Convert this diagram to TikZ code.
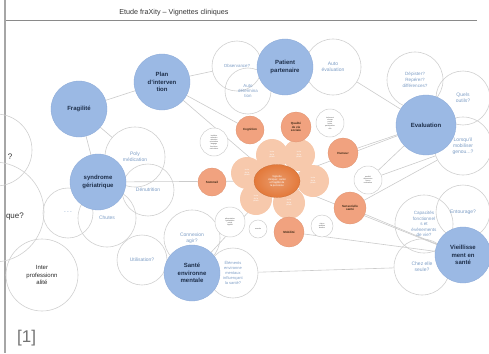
\documentclass[tikz,border=0pt]{standalone}
\usepackage{fontspec}
\setmainfont{Liberation Sans}
\usetikzlibrary{shapes.geometric}
\definecolor{hubblue}{HTML}{9BB9E4}
\definecolor{hubedge}{HTML}{8AA8D6}
\definecolor{hubtext}{HTML}{1E2F4A}
\definecolor{ringgray}{HTML}{CFCFCF}
\definecolor{ringtext}{HTML}{7C9CC4}
\definecolor{linkgray}{HTML}{CBCBCB}
\definecolor{petalfill}{HTML}{F7C9AC}
\definecolor{outerfill}{HTML}{F1A27F}
\definecolor{corefill}{HTML}{E3793A}
\definecolor{rulegray}{HTML}{8A8A8A}
\pgfdeclarelayer{edges}
\pgfsetlayers{edges,main}
\begin{document}
\begin{tikzpicture}[x=1pt,y=-1pt,
  hub/.style={circle,fill=hubblue,draw=hubedge,line width=0.3pt,minimum size=#1,
    inner sep=0pt,align=center,font=\fontsize{6}{7.2}\selectfont\bfseries,text=hubtext},
  hub/.default=56pt,
  ring/.style={circle,draw=ringgray,line width=0.6pt,minimum size=#1,inner sep=0pt,
    align=center,font=\fontsize{5}{6.2}\selectfont,text=ringtext},
  ring/.default=54pt,
  petal/.style={circle,fill=petalfill,minimum size=32pt,inner sep=0pt,align=center,
    font=\fontsize{2}{2.5}\selectfont,text=white},
  outer/.style={circle,fill=outerfill,draw=outerfill!90!black,line width=0.2pt,minimum size=#1,
    inner sep=0pt,align=center,font=\fontsize{3}{3.6}\selectfont\bfseries,text=black!70!brown},
  outer/.default=30pt,
  mini/.style={circle,draw=ringgray,fill=white,line width=0.5pt,minimum size=#1,inner sep=0pt,
    align=center,font=\fontsize{1.8}{2.2}\selectfont,text=black!70},
  mini/.default=28pt,
  link/.style={draw=linkgray,line width=0.6pt},
  plain/.style={inner sep=0pt,align=center}
]
\useasboundingbox (0,0) rectangle (489,353);

% header and left margin rule
\node[plain,font=\fontsize{7.2}{8.5}\selectfont,text=black!80] (title) at (174,13) {Etude fraXity -- Vignettes cliniques};
\coordinate (ruleL) at (5,20);
\coordinate (ruleR) at (477,20);
\draw[rulegray,line width=0.9pt] (ruleL) -- (ruleR);
\coordinate (barT) at (5,0);
\coordinate (barB) at (5,353);
\draw[black!35,line width=1.6pt] (barT) -- (barB);

% outline circles (questions)
\node[ring=72pt] (qa) at (-4,150) {};
\node[plain,font=\fontsize{8}{9}\selectfont,text=black!80] (qatext) at (10,157) {?};
\node[ring=100pt] (qb) at (-6,212) {};
\node[plain,anchor=east,font=\fontsize{8}{9}\selectfont,text=black!80] (qbtext) at (24,217) {que?};
\node[ring=72pt,text=black!85,font=\fontsize{6}{7.4}\selectfont] (inter) at (42,275) {Inter\\professionn\\alité};
\node[ring=60pt] (poly) at (135,157) {Poly\\médication};
\node[ring=52pt] (denut) at (148,190) {Dénutrition};
\node[ring=58pt] (chutes) at (107,218) {Chutes};
\node[ring=50pt] (blank) at (68,213) {- - -};
\node[ring=50pt,font=\fontsize{4.4}{5.4}\selectfont] (obs) at (237,66) {Observance?};
\node[ring=46pt,font=\fontsize{4.4}{5.4}\selectfont] (autodet) at (248,91) {Auto\\détermina\\tion};
\node[ring=56pt] (autoeval) at (333,67) {Auto\\évaluation};
\node[ring=56pt,font=\fontsize{4.6}{5.8}\selectfont] (depist) at (415,80) {Dépister?\\Repérer?\\différences?};
\node[ring=54pt] (outils) at (463,98) {Quels\\outils?};
\node[ring=58pt] (lorsq) at (463,146) {Lorsqu'il\\mobiliser\\genou...?};
\node[ring=58pt,font=\fontsize{4.6}{5.6}\selectfont] (capac) at (424,224) {Capacités\\fonctionnel\\s et\\évènements\\de vie?};
\node[ring=54pt] (entour) at (463,212) {Entourage?};
\node[ring=56pt] (chez) at (422,267) {Chez elle\\seule?};
\node[ring=56pt] (connex) at (192,238) {Connexion\\agir?};
\node[ring=50pt] (util) at (142,260) {Utilisation?};
\node[ring=50pt,font=\fontsize{4}{4.9}\selectfont] (elem) at (233,273) {Éléments\\environne\\mentaux\\influençant\\la santé?};

% hub circles
\node[hub] (plan) at (162,82) {Plan\\d'interven\\tion};
\node[hub] (frag) at (79,109) {Fragilité};
\node[hub] (patient) at (285,67) {Patient\\partenaire};
\node[hub=60pt] (eval) at (426,125) {Evaluation};
\node[hub] (synd) at (98,182) {syndrome\\gériatrique};
\node[hub] (sante) at (192,273) {Santé\\environne\\mentale};
\node[hub] (vieil) at (463,255) {Vieillisse\\ment en\\santé};

% flower: petals around the core
\foreach \px/\py [count=\i] in {272/155, 299/155, 313/181, 289/203, 256/199, 247/173}
  \node[petal] (petal\i) at (\px,\py) {texte\\de la\\pétale};
\node[ellipse,minimum width=46pt,minimum height=33pt,inner sep=0pt,
  inner color=corefill!75!white,outer color=corefill,draw=corefill!85!black,line width=0.2pt,
  align=center,font=\fontsize{2.6}{3.1}\selectfont,text=white] (center) at (277,181)
  {Vignette\\clinique : santé\\et fragilité de\\la personne};

% outer orange circles
\node[outer=28pt] (cogn) at (250,130) {Cognition};
\node[outer=30pt] (qualite) at (296,127) {Qualité\\de vie\\sociale};
\node[outer=30pt] (humeur) at (343,153) {Humeur};
\node[outer=32pt] (sens) at (350,208) {Sensorielle\\santé};
\node[outer=30pt] (mobil) at (289,232) {Mobilité};
\node[outer=28pt] (sommeil) at (212,182) {Sommeil};

% small note circles
\node[mini=28pt] (m1) at (214,142) {troubles\\mémoire\\attention\\orientation\\langage\\fonctions\\exécutives};
\node[mini=28pt] (m2) at (330,123) {isolement\\réseau\\social\\loisirs\\participation\\rôle};
\node[mini=28pt] (m3) at (368,180) {anxiété\\dépression\\stress\\motivation};
\node[mini=22pt] (m4) at (322,226) {vision\\audition\\douleur};
\node[mini=30pt] (m5) at (230,222) {alimentation\\hydratation\\poids\\appétit};
\node[mini=18pt] (m6) at (258,229) {marche};

% connectors, kept behind every circle
\begin{pgfonlayer}{edges}
\draw[link] (frag) -- (plan);
\draw[link] (frag) -- (synd);
\draw[link] (frag) -- (poly);
\draw[link] (plan) -- (obs);
\draw[link] (plan) -- (center);
\draw[link] (plan) -- (cogn);
\draw[link] (synd) -- (center);
\draw[link] (sante) -- (center);
\draw[link] (autoeval) -- (eval);
\draw[link] (eval) -- (center);
\draw[link] (eval) -- (humeur);
\draw[link] (eval) -- (m3);
\draw[link] (lorsq) -- (m3);
\draw[link] (lorsq) -- (sens);
\draw[link] (vieil) -- (center);
\draw[link] (vieil) -- (sens);
\draw[link] (vieil) -- (mobil);
\draw[link] (elem) -- (chez);
\end{pgfonlayer}

% reference mark
\node[plain,anchor=west,font=\fontsize{17}{20}\selectfont,text=black!55] (refmark) at (17,338) {[1]};
\end{tikzpicture}
\end{document}
